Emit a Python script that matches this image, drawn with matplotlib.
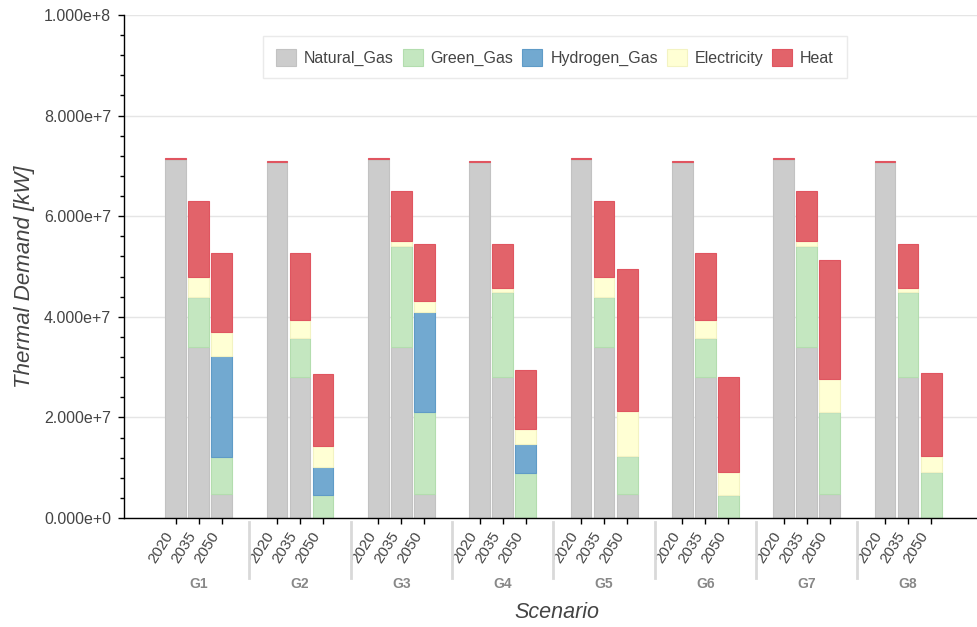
import numpy as np
import matplotlib
matplotlib.use("Agg")
import matplotlib.pyplot as plt
from matplotlib.ticker import MultipleLocator, FuncFormatter, FixedLocator

plt.rcParams['font.family'] = ['Liberation Sans', 'DejaVu Sans']

# --- data (values in 1e6 kW) ---
groups = ['G1', 'G2', 'G3', 'G4', 'G5', 'G6', 'G7', 'G8']
years = ['2020', '2035', '2050']
energies = ['Natural_Gas', 'Green_Gas', 'Hydrogen_Gas', 'Electricity', 'Heat']

natural_gas = [71.3, 34.0, 4.7,   70.8, 28.1, 0.0,   71.3, 34.0, 4.7,   70.8, 28.1, 0.0,
               71.3, 34.0, 4.7,   70.8, 28.1, 0.0,   71.3, 34.0, 4.7,   70.8, 28.1, 0.0]
green_gas = [0.0, 10.0, 7.5,   0.0, 7.7, 4.5,   0.0, 20.1, 16.3,   0.0, 16.8, 9.0,
             0.0, 10.0, 7.6,   0.0, 7.7, 4.6,   0.0, 20.1, 16.3,   0.0, 16.8, 9.1]
hydrogen_gas = [0.0, 0.0, 20.1,   0.0, 0.0, 5.7,   0.0, 0.0, 20.0,   0.0, 0.0, 5.7,
                0.0, 0.0, 0.0,    0.0, 0.0, 0.0,   0.0, 0.0, 0.0,    0.0, 0.0, 0.0]
electricity = [0.0, 3.9, 4.7,   0.0, 3.5, 4.2,   0.0, 1.0, 2.2,   0.0, 0.8, 2.9,
               0.0, 3.9, 9.0,   0.0, 3.5, 4.6,   0.0, 1.0, 6.6,   0.0, 0.8, 3.3]
heat = [0.2, 15.1, 15.6,   0.2, 13.3, 14.2,   0.2, 9.9, 11.3,   0.2, 8.7, 11.9,
        0.2, 15.1, 28.3,   0.2, 13.3, 18.9,   0.2, 9.9, 23.7,   0.2, 8.7, 16.5]

scale = 1e6
series = [natural_gas, green_gas, hydrogen_gas, electricity, heat]
fills = ['#cccccc', '#c4e7c0', '#72a9d0', '#ffffd4', '#e2636a']
edges = ['#c2c2c2', '#b3ddae', '#5f9bc7', '#f3f3c2', '#e05560']

# factor layout: 3 bars per group, group padding 1.4
gpad = 1.4
xpos = np.array([g * (len(years) + gpad) + j + 0.5
                 for g in range(len(groups)) for j in range(len(years))])

fig = plt.figure(figsize=(9.77, 6.27), dpi=100)
ax = fig.add_axes([124 / 977, 1 - 518 / 627, 853 / 977, 503 / 627])

bottom = np.zeros(len(xpos))
for name, vals, fc, ec in zip(energies, series, fills, edges):
    v = np.array(vals) * scale
    ax.bar(xpos, v, width=0.9, bottom=bottom, color=fc, edgecolor=ec,
           linewidth=0.8, label=name, zorder=2)
    bottom += v

ax.set_xlim(-1.745, 35.29)
ax.set_ylim(0, 1e8)

# y axis
ax.yaxis.set_major_locator(MultipleLocator(2e7))
ax.yaxis.set_minor_locator(MultipleLocator(4e6))


def sci(v, pos):
    if v == 0:
        return '0.000e+0'
    e = int(np.floor(np.log10(abs(v))))
    return f'{v / 10 ** e:.3f}e+{e}'


ax.yaxis.set_major_formatter(FuncFormatter(sci))
ax.tick_params(axis='y', which='major', length=4.3, width=1, pad=5,
               labelsize=11.5, labelcolor='#444444')
ax.tick_params(axis='y', which='minor', length=2.9, width=1)
ax.grid(axis='y', color='#e5e5e5', linewidth=1, zorder=0)
ax.set_axisbelow(True)

# x axis: year ticks
ax.xaxis.set_major_locator(FixedLocator(xpos))
ax.set_xticklabels(years * len(groups))
ax.tick_params(axis='x', length=4.3, width=1, pad=4, labelsize=11,
               labelcolor='#444444')
plt.setp(ax.get_xticklabels(), rotation=58, ha='right', va='top')

for s in ['top', 'right']:
    ax.spines[s].set_visible(False)
for s in ['left', 'bottom']:
    ax.spines[s].set_linewidth(1)

# group labels and separators
trans = ax.get_xaxis_transform()
for g, name in enumerate(groups):
    cx = xpos[g * 3 + 1]
    ax.text(cx, (518 - 584) / 503, name, transform=trans, ha='center',
            va='center', fontsize=10, fontweight='bold', color='#888888')
    if g > 0:
        sx = (xpos[g * 3 - 1] + xpos[g * 3]) / 2
        ax.plot([sx, sx], [(518 - 522) / 503, (518 - 578) / 503],
                transform=trans, color='#d9d9d9', linewidth=2, clip_on=False)

fig.text(25 / 977, 1 - 277 / 627, 'Thermal Demand [kW]', rotation=90,
         ha='center', va='center', fontsize=16, style='italic', color='#444444')
fig.text(557 / 977, 1 - 612 / 627, 'Scenario', ha='center', va='center',
         fontsize=15.5, style='italic', color='#444444')

leg = ax.legend(loc='upper center', bbox_to_anchor=((555 - 124) / 853, (518 - 28) / 503),
                ncol=5, fontsize=11.5, frameon=True, fancybox=False,
                handlelength=1.25, handleheight=1.25, handletextpad=0.5,
                columnspacing=0.55, borderpad=0.8)
leg.get_frame().set_edgecolor('#e5e5e5')
leg.get_frame().set_linewidth(1)
for t in leg.get_texts():
    t.set_color('#444444')

fig.savefig('out.png', dpi=100)
